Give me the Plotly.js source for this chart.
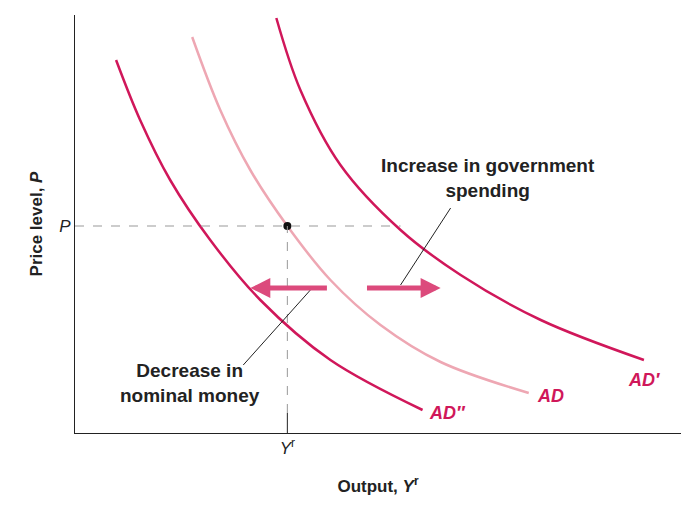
<!DOCTYPE html>
<html>
<head>
<meta charset="utf-8">
<script src="https://cdn.plot.ly/plotly-3.0.1.min.js"></script>
<style>body{margin:0;background:#fff}</style>
</head>
<body>
<div id="chart" style="width:699px;height:508px"></div>
<script>
// points (output, price level in chart units)
var adX = [117, 145, 175, 212, 255, 305, 365, 453];
var adY = [396, 323, 263, 207, 153, 108, 71, 40];
var adPrimeX = [201, 225, 265, 325, 385, 465, 568];
var adPrimeY = [415, 343, 268, 203, 158, 113, 73];
var adDblX = [41, 65, 95, 135, 185, 255, 347];
var adDblY = [373, 313, 253, 193, 133, 73, 23];
var eqX = [212];
var eqY = [207];

var red = '#d0175a';
var pink = '#eea7b3';
var font = 'Liberation Sans, Arial, sans-serif';

var data = [
    {x: adX, y: adY, mode: 'lines', line: {color: pink, width: 2.5, shape: 'spline'}},
    {x: adPrimeX, y: adPrimeY, mode: 'lines', line: {color: red, width: 2.5, shape: 'spline'}},
    {x: adDblX, y: adDblY, mode: 'lines', line: {color: red, width: 2.5, shape: 'spline'}},
    {x: eqX, y: eqY, mode: 'markers', marker: {color: '#111', size: 8}}
];

var layout = {
    showlegend: false,
    margin: {l: 75, r: 19, t: 15, b: 75},
    plot_bgcolor: '#fff',
    paper_bgcolor: '#fff',
    font: {family: font, color: '#222'},
    xaxis: {range: [0, 605], showgrid: false, zeroline: false, showline: true, linecolor: '#222',
        linewidth: 1, tickvals: [212], ticktext: ['<i>Y</i><sup>r</sup>'], ticks: '',
        tickfont: {size: 17}, fixedrange: true,
        title: {text: '<b>Output, <i>Y</i><sup>r</sup></b>', font: {size: 17}, standoff: 22}},
    yaxis: {range: [0, 418], showgrid: false, zeroline: false, showline: true, linecolor: '#222',
        linewidth: 1, tickvals: [207], ticktext: ['<i>P</i>'], ticks: '',
        tickfont: {size: 17}, fixedrange: true,
        title: {text: '<b>Price level, <i>P</i></b>', font: {size: 17}, standoff: 12}},
    shapes: [
        {type: 'line', x0: 0, x1: 325, y0: 207, y1: 207, line: {color: '#999', width: 1, dash: 'dash'}},
        {type: 'line', x0: 212, x1: 212, y0: 20, y1: 207, line: {color: '#999', width: 1, dash: 'dash'}},
        {type: 'line', x0: 212, x1: 212, y0: 0, y1: 20, line: {color: '#222', width: 1}},
        {type: 'line', x0: 375, x1: 325, y0: 225, y1: 148, line: {color: '#222', width: 1}},
        {type: 'line', x0: 168, x1: 235, y0: 68, y1: 143, line: {color: '#222', width: 1}}
    ],
    annotations: [
        {x: 175, y: 145, ax: 253, ay: 145, xref: 'x', yref: 'y', axref: 'x', ayref: 'y', text: '',
            showarrow: true, arrowhead: 2, arrowsize: 0.8, arrowwidth: 5, arrowcolor: '#dc4a7c'},
        {x: 365, y: 145, ax: 290, ay: 145, xref: 'x', yref: 'y', axref: 'x', ayref: 'y', text: '',
            showarrow: true, arrowhead: 2, arrowsize: 0.8, arrowwidth: 5, arrowcolor: '#dc4a7c'},
        {x: 412, y: 255, text: '<b>Increase in government<br>spending</b>', showarrow: false,
            font: {size: 19, color: '#222'}, align: 'center'},
        {x: 115, y: 50, text: '<b>Decrease in<br>nominal money</b>', showarrow: false,
            font: {size: 19, color: '#222'}, align: 'center'},
        {x: 475, y: 37, text: '<b><i>AD</i></b>', showarrow: false, font: {size: 18, color: red}},
        {x: 568, y: 53, text: '<b><i>AD′</i></b>', showarrow: false, font: {size: 18, color: red}},
        {x: 372, y: 20, text: '<b><i>AD″</i></b>', showarrow: false, font: {size: 18, color: red}}
    ]
};

Plotly.newPlot('chart', data, layout, {displayModeBar: false});
</script>
</body>
</html>
